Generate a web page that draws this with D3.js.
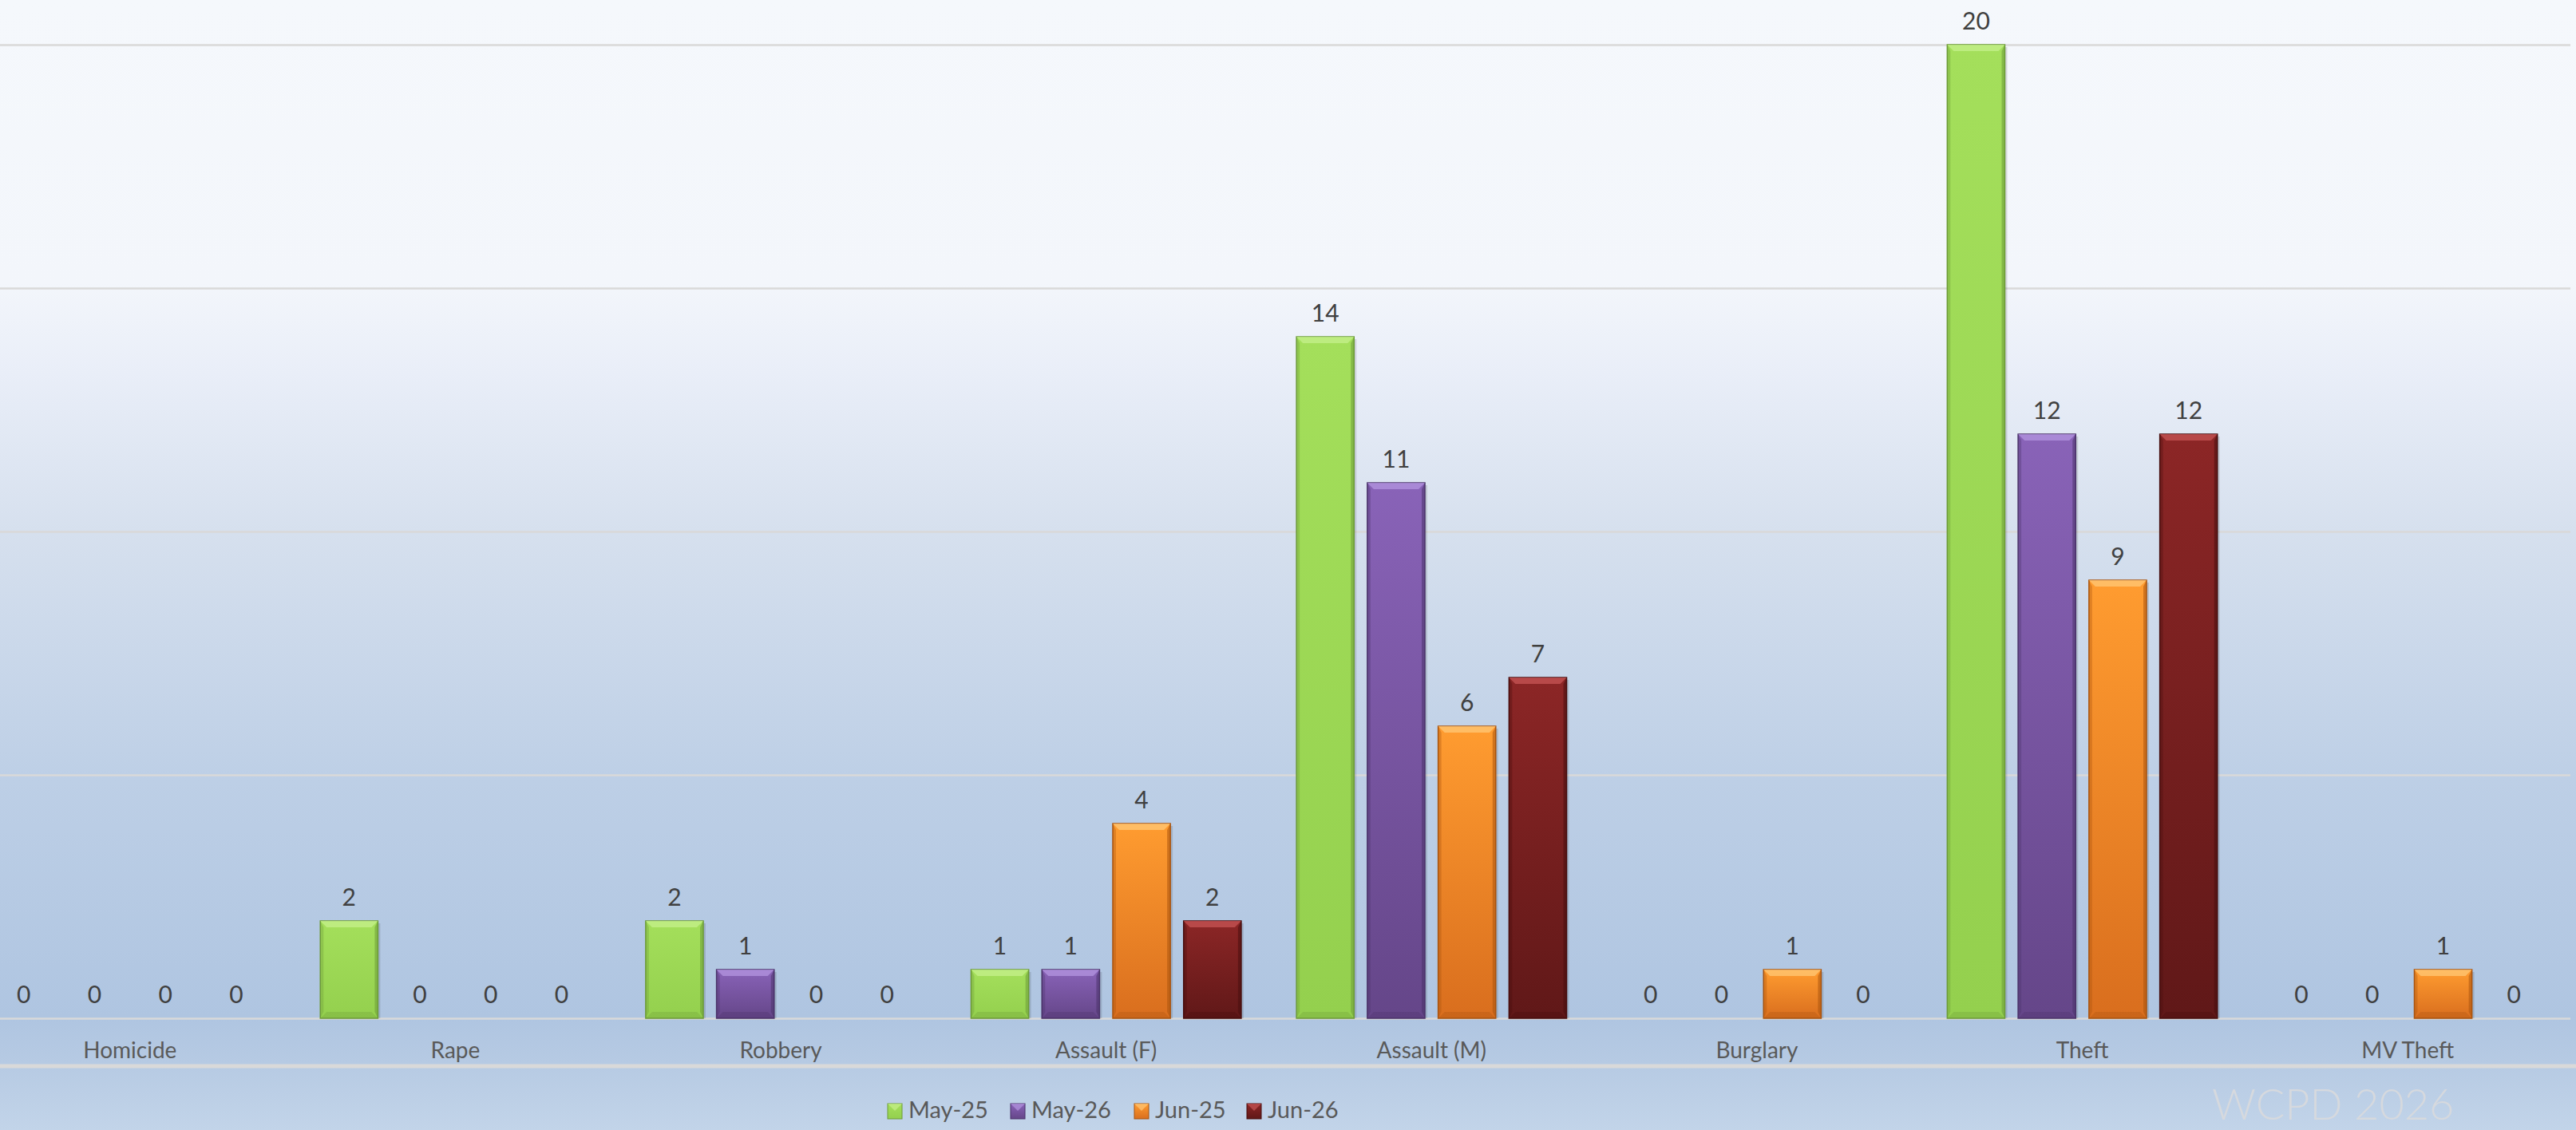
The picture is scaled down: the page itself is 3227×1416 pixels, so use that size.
<!DOCTYPE html>
<html>
<head>
<meta charset="utf-8">
<script src="https://cdn.jsdelivr.net/npm/d3@7"></script>
<style>
  html, body { margin: 0; padding: 0; overflow: hidden; }
  svg { display: block; font-family: Lato, "Open Sans", sans-serif; }
</style>
</head>
<body>
<svg id="chart"></svg>
<script>
const categories = ["Homicide", "Rape", "Robbery", "Assault (F)", "Assault (M)", "Burglary", "Theft", "MV Theft"];
const seriesNames = ["May-25", "May-26", "Jun-25", "Jun-26"];
const may25 = [0, 2, 2, 1, 14, 0, 20, 0];
const may26 = [0, 0, 1, 1, 11, 0, 12, 0];
const jun25 = [0, 0, 0, 4, 6, 1, 9, 1];
const jun26 = [0, 0, 0, 2, 7, 0, 12, 0];
const yTicks = [0, 5, 10, 15, 20];

const W = 3227, H = 1416;
const svg = d3.select("#chart").attr("width", W).attr("height", H);

// colours: [top, bottom, edge, highlight]
const palette = {
  "May-25": ["#A4DF5B", "#94D04E", "#6C9B38", "#C6F08C"],
  "May-26": ["#8963B8", "#654689", "#4B336A", "#B495E0"],
  "Jun-25": ["#FF9C30", "#D96E1E", "#A9540F", "#FFC877"],
  "Jun-26": ["#8C2626", "#601818", "#470E0E", "#C75555"]
};

const defs = svg.append("defs");

const bg = defs.append("linearGradient").attr("id", "bg")
  .attr("gradientUnits", "userSpaceOnUse")
  .attr("x1", 0).attr("y1", 0).attr("x2", 0).attr("y2", H);
[[0, "#F5F8FC"], [0.25, "#F3F6FB"], [0.33, "#E9EEF8"], [0.47, "#D6E0EE"],
 [0.69, "#BDCFE6"], [0.90, "#AFC5E1"], [0.94, "#B6CAE3"], [1, "#C2D4E9"]]
  .forEach(s => bg.append("stop").attr("offset", s[0]).attr("stop-color", s[1]));

seriesNames.forEach((s, i) => {
  const g = defs.append("linearGradient").attr("id", "fill" + i)
    .attr("x1", 0).attr("y1", 0).attr("x2", 0).attr("y2", 1);
  g.append("stop").attr("offset", 0).attr("stop-color", palette[s][0]);
  g.append("stop").attr("offset", 1).attr("stop-color", palette[s][1]);
});

svg.append("rect").attr("width", W).attr("height", H).attr("fill", "url(#bg)");

const plotLeft = -41, plotRight = 3220, baseY = 1276, topY = 56;

const x0 = d3.scaleBand().domain(categories).range([plotLeft, plotRight]).padding(0);
const x1 = d3.scaleBand().domain(seriesNames).range([0, x0.bandwidth()])
  .paddingInner(0.187).paddingOuter(0.39);
const y = d3.scaleLinear().domain([0, 20]).range([baseY, topY]);

// gridlines
svg.append("g")
  .attr("transform", `translate(${plotLeft},0)`)
  .call(d3.axisLeft(y).tickValues(yTicks).tickSize(-(plotRight - plotLeft)).tickFormat(""))
  .call(g => g.select(".domain").remove())
  .call(g => g.selectAll("line").attr("stroke", "#D9D9D9").attr("stroke-width", 2.5));

// lower separator line
svg.append("line")
  .attr("x1", 0).attr("x2", W).attr("y1", 1336).attr("y2", 1336)
  .attr("stroke", "#D9D9D9").attr("stroke-width", 5);

const rows = categories.map((c, i) => ({
  cat: c,
  vals: [may25[i], may26[i], jun25[i], jun26[i]]
}));

const groups = svg.append("g").selectAll("g.cat")
  .data(rows)
  .join("g")
  .attr("class", "cat")
  .attr("transform", d => `translate(${x0(d.cat)},0)`);

const bars = groups.selectAll("g.bar")
  .data(d => d.vals.map((v, i) => ({ series: seriesNames[i], idx: i, value: v })))
  .join("g")
  .attr("class", "bar");

const bev = 8;
const barsWithValue = bars.filter(d => d.value > 0);

barsWithValue.append("rect")
  .attr("x", d => x1(d.series) + 3)
  .attr("y", d => y(d.value) + 3)
  .attr("width", x1.bandwidth())
  .attr("height", d => baseY - y(d.value) - 3)
  .attr("fill", "rgba(0,0,0,0.12)");

barsWithValue.append("rect")
  .attr("x", d => x1(d.series))
  .attr("y", d => y(d.value))
  .attr("width", x1.bandwidth())
  .attr("height", d => baseY - y(d.value))
  .attr("fill", d => `url(#fill${d.idx})`)
  .attr("stroke", d => palette[d.series][2])
  .attr("stroke-width", 1.5);

// bevel: top highlight
barsWithValue.append("path")
  .attr("d", d => {
    const l = x1(d.series), r = l + x1.bandwidth(), t = y(d.value);
    return `M${l},${t}L${r},${t}L${r - bev},${t + bev}L${l + bev},${t + bev}Z`;
  })
  .attr("fill", d => palette[d.series][3])
  .attr("opacity", 0.75);

// bevel: sides
barsWithValue.append("path")
  .attr("d", d => {
    const l = x1(d.series), t = y(d.value);
    return `M${l},${t}L${l + bev / 2},${t + bev}L${l + bev / 2},${baseY - bev}L${l},${baseY}Z`;
  })
  .attr("fill", d => palette[d.series][2])
  .attr("opacity", 0.35);

barsWithValue.append("path")
  .attr("d", d => {
    const r = x1(d.series) + x1.bandwidth(), t = y(d.value);
    return `M${r},${t}L${r - bev / 2},${t + bev}L${r - bev / 2},${baseY - bev}L${r},${baseY}Z`;
  })
  .attr("fill", d => palette[d.series][2])
  .attr("opacity", 0.55);

// bevel: bottom
barsWithValue.append("path")
  .attr("d", d => {
    const l = x1(d.series), r = l + x1.bandwidth();
    return `M${l},${baseY}L${r},${baseY}L${r - bev},${baseY - bev}L${l + bev},${baseY - bev}Z`;
  })
  .attr("fill", d => palette[d.series][2])
  .attr("opacity", 0.3);

// value labels
bars.append("text")
  .attr("x", d => x1(d.series) + x1.bandwidth() / 2)
  .attr("y", d => y(d.value) - 19)
  .attr("text-anchor", "middle")
  .attr("font-size", 30)
  .attr("fill", "#404040")
  .text(d => d.value);

// category labels
svg.append("g")
  .attr("transform", `translate(0,${baseY})`)
  .call(d3.axisBottom(x0).tickSize(0).tickPadding(30))
  .call(g => g.select(".domain").remove())
  .call(g => g.selectAll("text")
    .attr("font-family", "Lato, 'Open Sans', sans-serif")
    .attr("font-size", 28)
    .attr("fill", "#595959"));

// legend
const legendX = [1112, 1266, 1421, 1562];
const legend = svg.append("g").selectAll("g")
  .data(seriesNames)
  .join("g")
  .attr("transform", (d, i) => `translate(${legendX[i]},1383)`);

legend.append("rect")
  .attr("width", 18).attr("height", 19)
  .attr("fill", (d, i) => `url(#fill${i})`)
  .attr("stroke", d => palette[d][2]).attr("stroke-width", 1);

legend.append("path")
  .attr("d", "M0,0L18,0L9,9Z")
  .attr("fill", d => palette[d][3]).attr("opacity", 0.7);

legend.append("text")
  .attr("x", 26).attr("y", 18)
  .attr("font-size", 29)
  .attr("fill", "#595959")
  .text(d => d);

// watermark
svg.append("text")
  .attr("x", 2771).attr("y", 1403)
  .attr("font-size", 54)
  .attr("font-weight", 300)
  .attr("fill", "#D6D9DE")
  .text("WCPD 2026");
</script>
</body>
</html>
